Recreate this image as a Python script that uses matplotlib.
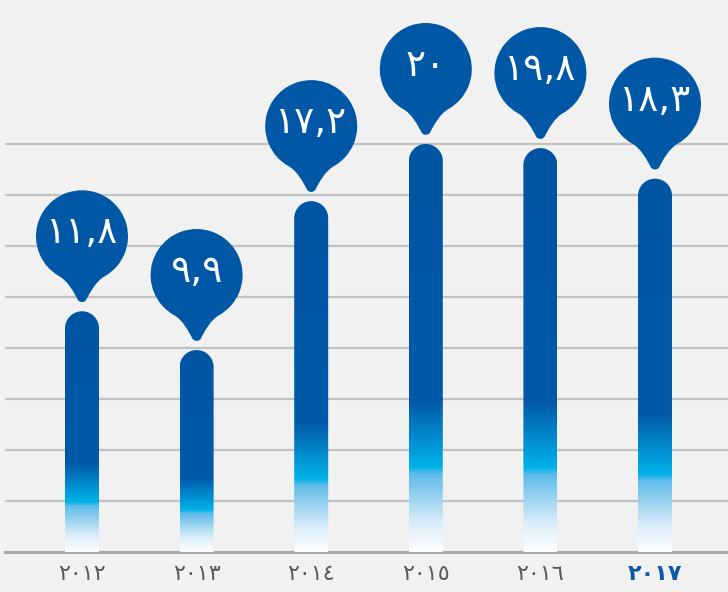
import numpy as np
import matplotlib
matplotlib.use("Agg")
import matplotlib.pyplot as plt
from matplotlib.path import Path
from matplotlib.patches import PathPatch
from matplotlib.colors import LinearSegmentedColormap
from matplotlib.transforms import Affine2D, ScaledTranslation

# ---- data ----
years = ["٢٠١٢", "٢٠١٣", "٢٠١٤", "٢٠١٥", "٢٠١٦", "٢٠١٧"]
values = [11.8, 9.9, 17.2, 20.0, 19.8, 18.3]
value_labels = ["١١,٨", "٩,٩", "١٧,٢", "٢٠", "١٩,٨", "١٨,٣"]
grid_levels = [2.5, 5, 7.5, 10, 12.5, 15, 17.5, 20]

# ---- style ----
BG = "#f1f1f1"
BLUE = "#0057a5"
W, H = 728, 592
DPI = 100
PX_PER_UNIT = 20.4
SLOT_PX = 114.6
FIRST_PX = 82
BAR_PX = 34

fig = plt.figure(figsize=(W / DPI, H / DPI), dpi=DPI)
fig.patch.set_facecolor(BG)
ax = fig.add_axes([5 / W, 40 / H, 723 / W, 552 / H])
ax.set_facecolor(BG)
for s in ax.spines.values():
    s.set_visible(False)

x = np.arange(len(years))
ax.set_xlim((5 - FIRST_PX) / SLOT_PX, (W - FIRST_PX) / SLOT_PX)
ax.set_ylim(0, 552 / PX_PER_UNIT)
ax.set_yticks([])

# grid
for g in grid_levels:
    ax.axhline(g, color="#c2c2c2", lw=1.6, zorder=1)
ax.axhline(0, color="#a8a8a8", lw=2.2, zorder=1, clip_on=False)

# gradient colormap (bottom -> top)
cmap = LinearSegmentedColormap.from_list("bar", [
    (0.00, "#ffffff"),
    (0.07, "#d8ecf9"),
    (0.19, "#5fbbe9"),
    (0.205, "#00b3e9"),
    (0.27, "#0190d1"),
    (0.37, "#0059a7"),
    (1.00, "#0055a3"),
])
grad = np.linspace(0, 1, 400).reshape(-1, 1)

bw = BAR_PX / SLOT_PX
rx = bw / 2
ry = (BAR_PX / 2) / PX_PER_UNIT
for xi, v in zip(x, values):
    t = np.linspace(0, np.pi, 40)
    cx, cy = xi, v - ry
    verts = [(xi - rx, 0), (xi + rx, 0), (xi + rx, cy)]
    verts += [(cx + rx * np.cos(a), cy + ry * np.sin(a)) for a in t]
    verts += [(xi - rx, 0)]
    codes = [Path.MOVETO] + [Path.LINETO] * (len(verts) - 2) + [Path.CLOSEPOLY]
    patch = PathPatch(Path(verts, codes), facecolor="none", edgecolor="none")
    ax.add_patch(patch)
    im = ax.imshow(grad, cmap=cmap, origin="lower", aspect="auto",
                   extent=(xi - rx, xi + rx, 0, v), interpolation="bilinear",
                   zorder=2)
    im.set_clip_path(patch)

# balloon path in pixels, tip at origin
R = 46.0
Hc = 66.0
arc = Path.arc(-60, 240)
av = arc.vertices * R + np.array([0, Hc])
ac = list(arc.codes)
pr = av[0]
tail_v = [(-14.3, 21.5), (-8, 10), (-4, 2),
          (0, -1.8), (4, 2),
          (8, 10), (14.3, 21.5), (pr[0], pr[1]),
          (0, 0)]
tail_c = [Path.CURVE4] * 3 + [Path.CURVE3] * 2 + [Path.CURVE4] * 3 + [Path.CLOSEPOLY]
balloon = Path(np.vstack([av, tail_v]), ac + tail_c)

GAP = 9.0
for xi, v, lab in zip(x, values, value_labels):
    tr = Affine2D().translate(0, GAP) + ScaledTranslation(xi, v, ax.transData)
    bp = PathPatch(balloon, facecolor=BLUE, edgecolor="none", transform=tr,
                   zorder=4, clip_on=False)
    ax.add_patch(bp)
    ax.annotate(lab, xy=(xi, v), xytext=(0, GAP + Hc + 3), textcoords="offset pixels",
                ha="center", va="center", color="white", fontsize=27,
                family=["DejaVu Sans"], zorder=5, annotation_clip=False)

ax.set_xticks(x)
ax.set_xticklabels(years, fontsize=16, color="#5a5a5a", family=["DejaVu Sans"])
ax.tick_params(axis="x", length=0, pad=9)
last = ax.get_xticklabels()[-1]
last.set_color("#0a5aa8")
last.set_fontweight("bold")

fig.savefig("out.png", dpi=DPI, facecolor=BG)
